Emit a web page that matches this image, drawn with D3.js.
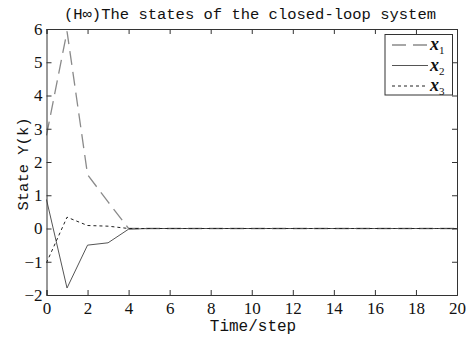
<!DOCTYPE html>
<html lang="en">
<head>
<meta charset="utf-8">
<title>Hinf closed-loop states</title>
<script src="https://cdn.jsdelivr.net/npm/d3@7"></script>
<style>
    body { margin: 0; background: #fff; }
    svg { display: block; }
    .lbl { font-family: "Liberation Mono", monospace; fill: #111; }
</style>
</head>
<body>
<svg width="471" height="339"></svg>
<script>
    // values
    const steps = d3.range(0, 21)
    const x1 = [2.8, 5.93, 1.62, 0.8, 0, 0, 0, 0, 0, 0, 0, 0, 0, 0, 0, 0, 0, 0, 0, 0, 0]
    const x2 = [0.87, -1.79, -0.5, -0.43, -0.02, 0, 0, 0, 0, 0, 0, 0, 0, 0, 0, 0, 0, 0, 0, 0, 0]
    const x3 = [-1.03, 0.34, 0.09, 0.07, 0, 0, 0, 0, 0, 0, 0, 0, 0, 0, 0, 0, 0, 0, 0, 0, 0]
    const xTicks = [0, 2, 4, 6, 8, 10, 12, 14, 16, 18, 20]
    const yTicks = [-2, -1, 0, 1, 2, 3, 4, 5, 6]
    const seriesNames = ["1", "2", "3"]

    const margin = {left: 46.5, right: 14, top: 29, bottom: 44}
    const W = 471, H = 339
    const svg = d3.select("svg")

    const x = d3.scaleLinear().domain([0, 20]).range([margin.left, W - margin.right])
    const y = d3.scaleLinear().domain([-2, 6]).range([H - margin.bottom, margin.top])

    const series = [
        {vals: x1, stroke: "#8a8a8a", dash: "14,7", width: 1.3},
        {vals: x2, stroke: "#555", dash: null, width: 1},
        {vals: x3, stroke: "#222", dash: "3,3", width: 1}
    ]

    const line = d3.line().x((d, i) => x(steps[i])).y(d => y(d))

    series.forEach(s => {
        svg.append("path")
            .datum(s.vals)
            .attr("fill", "none")
            .attr("stroke", s.stroke)
            .attr("stroke-width", s.width)
            .attr("stroke-dasharray", s.dash)
            .attr("d", line)
    })

    // axes, matlab style: ticks inward on all four sides
    const axColor = "#333"
    const axBottom = svg.append("g").attr("transform", `translate(0,${y(-2)})`)
        .call(d3.axisBottom(x).tickValues(xTicks).tickSize(-5).tickPadding(8))
    const axLeft = svg.append("g").attr("transform", `translate(${x(0)},0)`)
        .call(d3.axisLeft(y).tickValues(yTicks).tickSize(-5).tickPadding(4).tickFormat(d => d < 0 ? "\u2212" + Math.abs(d) : d))
    const axTop = svg.append("g").attr("transform", `translate(0,${y(6)})`)
        .call(d3.axisTop(x).tickValues(xTicks).tickSize(-5).tickFormat(""))
    const axRight = svg.append("g").attr("transform", `translate(${x(20)},0)`)
        .call(d3.axisRight(y).tickValues(yTicks).tickSize(-5).tickFormat(""))
    ;[axBottom, axLeft, axTop, axRight].forEach(g => {
        g.attr("font-family", "'Liberation Serif', 'DejaVu Serif', serif").attr("font-size", 17)
        g.select(".domain").attr("stroke", axColor).attr("stroke-width", 1)
        g.selectAll(".tick line").attr("stroke", axColor)
        g.selectAll(".tick text").attr("fill", "#111")
    })
    axBottom.selectAll(".tick text").attr("dy", "0.62em")

    // title and axis labels
    svg.append("text").attr("class", "lbl")
        .attr("x", 250).attr("y", 19)
        .attr("text-anchor", "middle").style("font-size", "15.5px")
        .text("(H\u221E)The states of the closed-loop system")
    svg.append("text").attr("class", "lbl")
        .attr("x", 253).attr("y", 331)
        .attr("text-anchor", "middle").style("font-size", "16px")
        .text("Time/step")
    svg.append("text").attr("class", "lbl")
        .attr("transform", "translate(28,164) rotate(-90)")
        .attr("text-anchor", "middle").style("font-size", "15.5px")
        .text("State Y(k)")

    // legend
    const lg = svg.append("g")
    lg.append("rect")
        .attr("x", 385).attr("y", 34.5).attr("width", 67.5).attr("height", 60.5)
        .attr("fill", "#fff").attr("stroke", axColor)
    seriesNames.forEach((n, i) => {
        const s = series[i]
        const ly = 45 + i * 20.5
        lg.append("line")
            .attr("x1", 392).attr("x2", 428).attr("y1", ly).attr("y2", ly)
            .attr("stroke", s.stroke).attr("stroke-width", s.width)
            .attr("stroke-dasharray", s.dash)
        const t = lg.append("text")
            .attr("x", 430).attr("y", ly + 5)
            .style("font-family", "'Liberation Serif', serif")
            .style("font-size", "18px").style("font-weight", "bold").style("font-style", "italic")
            .attr("fill", "#111")
        t.append("tspan").text("x")
        t.append("tspan").attr("dy", 4).style("font-size", "11px")
            .style("font-weight", "normal").style("font-style", "normal").text(n)
    })
</script>
</body>
</html>
